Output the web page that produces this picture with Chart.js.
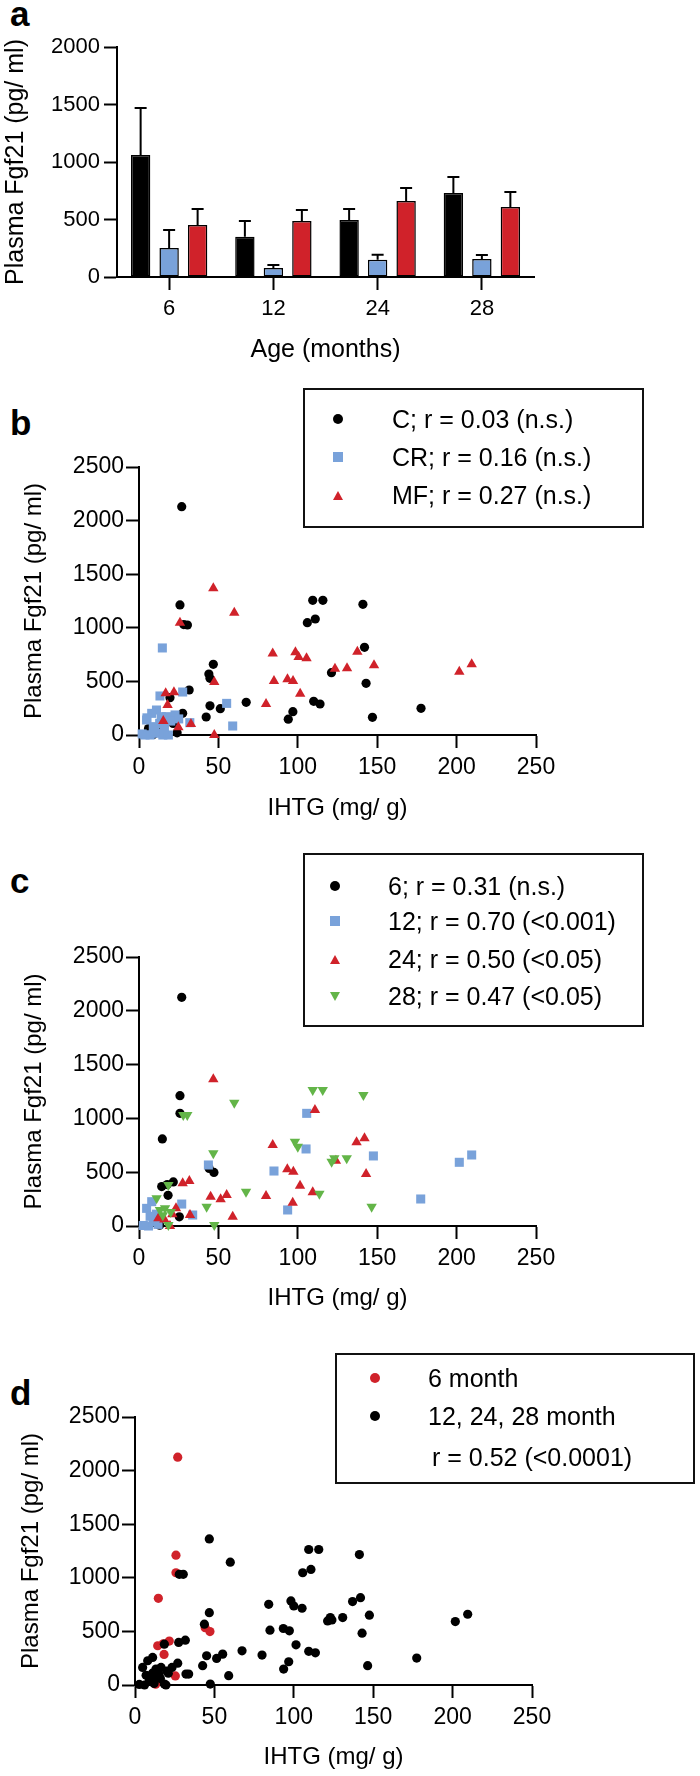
<!DOCTYPE html>
<html>
<head>
<meta charset="utf-8">
<script src="https://cdn.jsdelivr.net/npm/chart.js@4.4.0/dist/chart.umd.min.js"></script>
<style>
  body { margin: 0; width: 700px; height: 1776px; position: relative; background: #fff; overflow: hidden;
         font-family: "Liberation Sans", Arial, sans-serif; color: #000; }
  canvas { position: absolute; left: 0; }
  .tag { position: absolute; left: 10px; font-weight: bold; font-size: 35px; line-height: 35px; }
  .legend { position: absolute; border: 2px solid #111; box-sizing: border-box; }
  .row { position: absolute; font-size: 25px; line-height: 30px; white-space: nowrap; }
  .mk { position: absolute; }
</style>
</head>
<body>
<div class="tag" style="top:-4px">a</div>
<div class="tag" style="top:405px">b</div>
<div class="tag" style="top:863px">c</div>
<div class="tag" style="top:1375px">d</div>

<canvas id="chartA" width="700" height="380" style="top:0"></canvas>
<canvas id="chartB" width="700" height="450" style="top:380px"></canvas>
<canvas id="chartC" width="700" height="485" style="top:830px"></canvas>
<canvas id="chartD" width="700" height="461" style="top:1315px"></canvas>

<script>
// panel a: plasma Fgf21 by age, mean and SEM
const ages = ['6', '12', '24', '28'];
const cMean = [1060, 350, 495, 730];
const cSem = [410, 137, 96, 140];
const crMean = [252, 78, 150, 157];
const crSem = [157, 26, 43, 34];
const mfMean = [452, 487, 661, 609];
const mfSem = [139, 96, 113, 130];

// panel b: by diet group, [IHTG, Fgf21]
const bControl = [[26.9,2130],[25.8,1213],[28.2,1030],[30.5,1026],[46.8,659],[44,569],[44.7,529],[31.6,420],
  [19.5,348],[27.5,202],[44.7,272],[42.3,168],[51.2,246],[67.5,305],[96.9,218],[94,148],[110,314],[114,289],
  [106,1048],[111,1082],[109.4,1256],[115.8,1256],[141,1219],[142,818],[121.2,581],[143,482],[147,165],
  [177.6,249],[21.5,108],[14,30],[9,5],[17,140],[6,60],[24,20]];
const bCR = [[14.7,812],[27.5,401],[13.2,364],[55.2,295],[59,84],[32,115],[22.7,187],[3.8,0],[7,0],[11,16],
  [15,0],[18.5,0],[4.8,140],[8,202],[11,233],[14,171],[17.4,171],[9,78],[13,109],[5,160],[20,130],[10,40],
  [16,60],[2,10],[25,150]];
const bMF = [[46.8,1368],[60,1141],[25.8,1048],[84.2,760],[98.5,771],[100.5,727],[105.5,715],[85,504],
  [93.5,519],[97,504],[80,289],[101.5,385],[47.4,495],[123.4,619],[131,622],[137.5,777],[148,650],
  [201.7,591],[209.5,659],[16.8,389],[22,398],[18,280],[15.3,131],[24.8,72],[32.7,103],[47.4,0]];
const bLabels = ['C; r = 0.03 (n.s.)', 'CR; r = 0.16 (n.s.)', 'MF; r = 0.27 (n.s.)'];

// panel c: by age (months), [IHTG, Fgf21]
const age6 = [[26.9,2125],[25.8,1211],[25.8,1047],[14.7,809],[44.2,535],[47.2,498],[14.3,366],[17.8,385],
  [21.6,410],[18.3,285],[25.4,85],[13,8]];
const age12 = [[43.7,567],[26.9,204],[33.8,102],[85,511],[93.6,149],[105.6,1047],[105.2,716],[147.6,651],
  [201.7,592],[209.5,660],[177.4,251],[4.8,164],[8,226],[2.7,5],[6,0],[9,40],[11,110],[7,90],[12,15]];
const age24 = [[46.8,1363],[84.2,753],[110.8,1078],[93.4,527],[97.2,505],[101.4,375],[96.8,217],[109.4,314],
  [80,279],[45.1,273],[51.4,248],[55.2,288],[59,87],[27.5,397],[31.7,418],[32.1,102],[23.3,164],[12.2,71],
  [19.5,0],[137,778],[142,815],[143,483],[124,607],[16,60],[21,110]];
const age28 = [[109.4,1264],[115.7,1264],[60,1146],[27.9,1032],[30.4,1032],[98.2,784],[100,737],[46.8,675],
  [121.3,598],[123,629],[130.8,629],[67.4,319],[113.6,300],[42.6,180],[47.4,9],[18.5,381],[11.1,257],
  [13.2,149],[16.4,164],[18.5,9],[141.3,1217],[146.5,180],[20,130],[15,100]];
const cLabels = ['6; r = 0.31 (n.s.)', '12; r = 0.70 (<0.001)', '24; r = 0.50 (<0.05)', '28; r = 0.47 (<0.05)'];

// panel d: 6 month vs the rest
const dLabels = ['6 month', '12, 24, 28 month', 'r = 0.52 (<0.0001)'];

const BLACK = '#000000';
const BLUE = '#79a2da';
const RED = '#d0222a';
const GREEN = '#63b548';

Chart.defaults.font.family = '"Liberation Sans", Arial, sans-serif';
Chart.defaults.color = '#000';

const axisBase = (size, pad) => ({
    border: { color: '#000', width: 2 },
    grid: { drawOnChartArea: false, tickLength: 13, tickWidth: 2, tickColor: '#000', offset: false },
    ticks: { color: '#000', font: { size }, padding: pad }
});

// plain numbers, no thousands separator
const plain = v => String(v);

const errorBars = {
    id: 'errorBars',
    afterDatasetsDraw(chart) {
        const { ctx } = chart;
        const y = chart.scales.y;
        ctx.save();
        ctx.strokeStyle = '#000';
        ctx.lineWidth = 2;
        chart.data.datasets.forEach((ds, i) => {
            chart.getDatasetMeta(i).data.forEach((bar, j) => {
                const top = y.getPixelForValue(ds.data[j] + ds.errors[j]);
                ctx.beginPath();
                ctx.moveTo(bar.x, bar.y);
                ctx.lineTo(bar.x, top);
                ctx.moveTo(bar.x - 6, top);
                ctx.lineTo(bar.x + 6, top);
                ctx.stroke();
            });
        });
        ctx.restore();
    }
};

const barSet = (label, data, errors, color) => ({
    label, data, errors,
    backgroundColor: color, borderColor: '#000', borderWidth: 1.5, borderSkipped: false,
    categoryPercentage: 0.82, barPercentage: 0.68
});

new Chart(document.getElementById('chartA'), {
    type: 'bar',
    data: {
        labels: ages,
        datasets: [
            barSet('C', cMean, cSem, BLACK),
            barSet('CR', crMean, crSem, BLUE),
            barSet('MF', mfMean, mfSem, RED)
        ]
    },
    options: {
        responsive: false,
        animation: false,
        layout: { padding: { top: 47, right: 166, left: 0, bottom: 0 } },
        plugins: { legend: { display: false }, tooltip: { enabled: false } },
        scales: {
            x: {
                ...axisBase(22, 6),
                title: { display: true, text: 'Age (months)', font: { size: 25 }, padding: { top: 0, bottom: 15 } },
                afterFit: s => { s.height = 103; }
            },
            y: {
                ...axisBase(22, 4),
                min: 0, max: 2000,
                ticks: { ...axisBase(22, 4).ticks, stepSize: 500, callback: plain },
                title: { display: true, text: 'Plasma Fgf21 (pg/ ml)', font: { size: 25 }, padding: { top: 1, bottom: 0 } },
                afterFit: s => { s.width = 117; }
            }
        }
    },
    plugins: [errorBars]
});

const pts = arr => arr.map(([x, y]) => ({ x, y }));

const series = (arr, color, style, radius, order, rotation = 0) => ({
    data: pts(arr),
    order,
    pointStyle: style,
    pointRadius: radius,
    pointBackgroundColor: color,
    pointBorderColor: color,
    pointBorderWidth: 0,
    pointRotation: rotation,
    showLine: false,
    clip: false
});

const scatterChart = (id, datasets, box) => new Chart(document.getElementById(id), {
    type: 'scatter',
    data: { datasets },
    options: {
        responsive: false,
        animation: false,
        layout: { padding: { top: box.top, right: box.right, left: 0, bottom: 0 } },
        plugins: { legend: { display: false }, tooltip: { enabled: false } },
        scales: {
            x: {
                ...axisBase(23, 6),
                min: 0, max: 250,
                ticks: { ...axisBase(23, 6).ticks, stepSize: 50, callback: plain },
                title: { display: true, text: 'IHTG (mg/ g)', font: { size: 24 }, padding: { top: 0, bottom: box.xPad } },
                afterFit: s => { s.height = box.xh; }
            },
            y: {
                ...axisBase(23, 2),
                min: 0, max: 2500,
                ticks: { ...axisBase(23, 2).ticks, stepSize: 500, callback: plain },
                title: { display: true, text: 'Plasma Fgf21 (pg/ ml)', font: { size: 24 }, padding: { top: box.yPad, bottom: 0 } },
                afterFit: s => { s.width = box.yw; }
            }
        }
    }
});

scatterChart('chartB', [
    series(bControl, BLACK, 'circle', 4.6, 3),
    series(bCR, BLUE, 'rect', 6.4, 2),
    series(bMF, RED, 'triangle', 6, 1)
], { top: 87, right: 164, xh: 95, yw: 139, xPad: 7.6, yPad: 19.6 });

scatterChart('chartC', [
    series(age6, BLACK, 'circle', 4.6, 3),
    series(age12, BLUE, 'rect', 6.4, 2),
    series(age24, RED, 'triangle', 6, 1),
    series(age28, GREEN, 'triangle', 6, 0, 180)
], { top: 127, right: 164, xh: 89, yw: 139, xPad: 2.6, yPad: 19.6 });

scatterChart('chartD', [
    series(age6, RED, 'circle', 4.6, 1),
    series([...age12, ...age24, ...age28], BLACK, 'circle', 4.6, 0)
], { top: 102, right: 168, xh: 91, yw: 135, xPad: 4.6, yPad: 16.6 });

// legends as boxed html text
function marker(kind, color, cx, cy) {
    const m = document.createElement('div');
    m.className = 'mk';
    if (kind === 'circle' || kind === 'rect') {
        const d = 10;
        Object.assign(m.style, {
            width: d + 'px', height: d + 'px', background: color,
            borderRadius: kind === 'circle' ? '50%' : '0',
            left: (cx - d / 2) + 'px', top: (cy - d / 2) + 'px'
        });
    } else {
        const w = 10, h = 9;
        const side = w / 2 + 'px solid transparent';
        Object.assign(m.style, {
            width: 0, height: 0, borderLeft: side, borderRight: side,
            left: (cx - w / 2) + 'px', top: (cy - h / 2) + 'px'
        });
        if (kind === 'up') m.style.borderBottom = h + 'px solid ' + color;
        else m.style.borderTop = h + 'px solid ' + color;
    }
    document.body.appendChild(m);
}

function addLegend(box, mx, tx, items) {
    const frame = document.createElement('div');
    frame.className = 'legend';
    Object.assign(frame.style, { left: box[0] + 'px', top: box[1] + 'px', width: box[2] + 'px', height: box[3] + 'px' });
    document.body.appendChild(frame);
    items.forEach(it => {
        if (it.kind) marker(it.kind, it.color, mx, it.y);
        const t = document.createElement('div');
        t.className = 'row';
        t.textContent = it.text;
        Object.assign(t.style, { left: (it.tx || tx) + 'px', top: (it.y - 15) + 'px' });
        document.body.appendChild(t);
    });
}

addLegend([303, 388, 341, 140], 338, 392, [
    { kind: 'circle', color: BLACK, y: 419, text: bLabels[0] },
    { kind: 'rect', color: BLUE, y: 457, text: bLabels[1] },
    { kind: 'up', color: RED, y: 495, text: bLabels[2] }
]);

addLegend([303, 853, 341, 174], 335, 388, [
    { kind: 'circle', color: BLACK, y: 886, text: cLabels[0] },
    { kind: 'rect', color: BLUE, y: 921, text: cLabels[1] },
    { kind: 'up', color: RED, y: 959, text: cLabels[2] },
    { kind: 'down', color: GREEN, y: 996, text: cLabels[3] }
]);

addLegend([335, 1353, 360, 131], 375, 428, [
    { kind: 'circle', color: RED, y: 1378, text: dLabels[0] },
    { kind: 'circle', color: BLACK, y: 1416, text: dLabels[1] },
    { y: 1457, text: dLabels[2], tx: 432 }
]);
</script>
</body>
</html>
